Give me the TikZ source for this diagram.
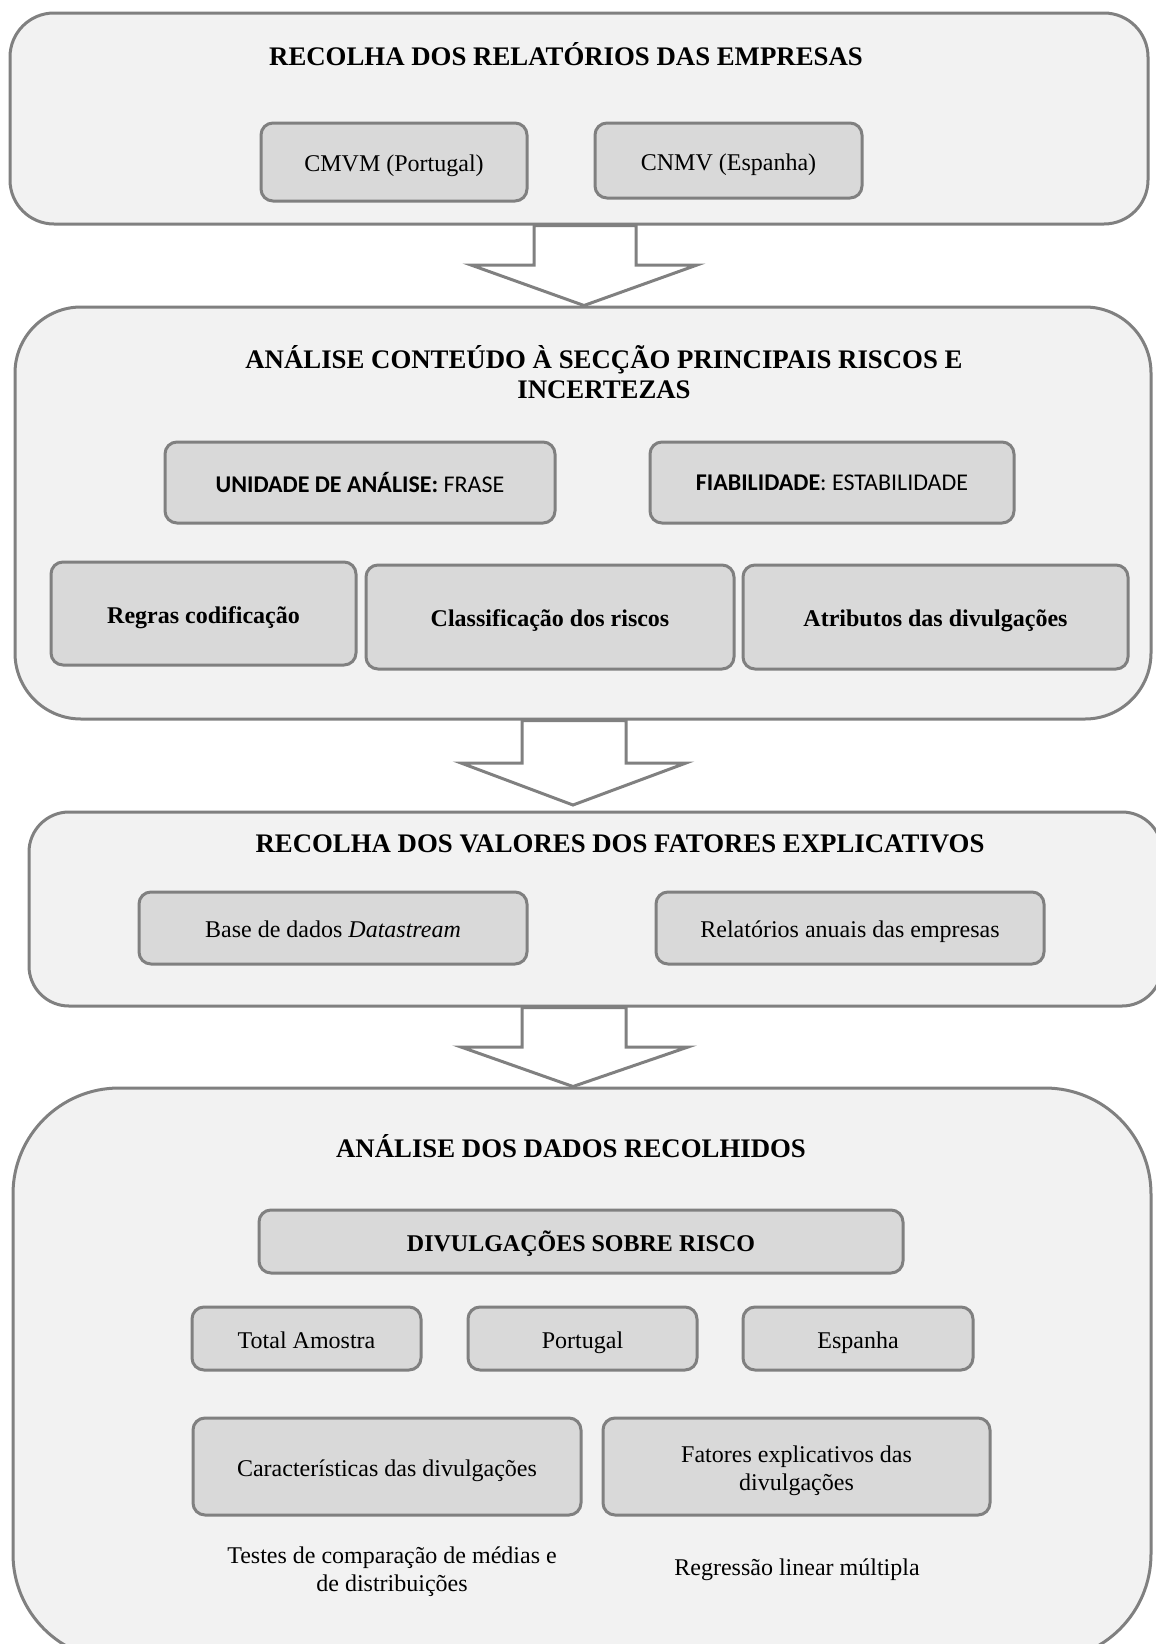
\documentclass[tikz,border=0pt]{standalone}
\usepackage{fontspec}
\setmainfont{Liberation Serif}
\newfontfamily\calibri{Carlito}
\usepackage{tikz}
\definecolor{outerfill}{HTML}{F2F2F2}
\definecolor{innerfill}{HTML}{D9D9D9}
\definecolor{edgegray}{HTML}{808080}

\begin{document}
\begin{tikzpicture}[x=0.5pt,y=-0.5pt,
 outer/.style={rectangle,draw=edgegray,fill=outerfill,line width=1.5pt,inner sep=0pt},
 inner/.style={rectangle,rounded corners=6pt,draw=edgegray,fill=innerfill,line width=1.5pt,inner sep=0pt,align=center,font=\fontsize{12}{14}\selectfont},
 box/.style={inner,execute at begin node={\rule[-3pt]{0pt}{15.5pt}}},
 boxbf/.style={box,font=\bfseries\fontsize{12}{14}\selectfont},
 boxsf/.style={inner,font=\calibri\fontsize{12}{14}\selectfont},
 title/.style={align=center,inner sep=0pt,font=\bfseries\fontsize{13.4}{15}\selectfont},
 plain/.style={align=center,inner sep=0pt,font=\fontsize{12}{14}\selectfont},
 hollow/.style={draw=edgegray,fill=white,line width=1.5pt,line join=miter}]

 \useasboundingbox (0,0) rectangle (1156,1644);
 \clip (0,0) rectangle (1156,1644);

 \node at (579,118.5) [outer,rounded corners=22pt,minimum width=569pt,minimum height=105.5pt] (rel) {};
 \node at (566,54) [title] (t1) {RECOLHA DOS RELATÓRIOS DAS EMPRESAS};
 \node at (394,162) [box,minimum width=133pt,minimum height=39pt] (cmvm) {CMVM (Portugal)};
 \node at (728.5,160.5) [box,minimum width=133.5pt,minimum height=37.5pt] (cnmv) {CNMV (Espanha)};

 \node at (583,513) [outer,rounded corners=33pt,minimum width=568pt,minimum height=206pt] (cont) {};
 \node at (604,372) [title] (t2) {ANÁLISE CONTEÚDO À SECÇÃO PRINCIPAIS RISCOS E\\INCERTEZAS};
 \node at (360,482.5) [boxsf,minimum width=195pt,minimum height=40.5pt] (unid) {\textbf{UNIDADE DE ANÁLISE:} FRASE};
 \node at (832,482.5) [boxsf,minimum width=182pt,minimum height=40.5pt] (fiab) {\textbf{FIABILIDADE}: ESTABILIDADE};
 \node at (203.5,613.5) [boxbf,minimum width=152.5pt,minimum height=51.5pt] (regr) {Regras codificação};
 \node at (550,617) [boxbf,minimum width=184pt,minimum height=52pt] (clas) {Classificação dos riscos};
 \node at (935.5,617) [boxbf,minimum width=192.5pt,minimum height=52pt] (atri) {Atributos das divulgações};

 \node at (595.5,909) [outer,rounded corners=20pt,minimum width=566.5pt,minimum height=97pt] (val) {};
 \node at (620,844) [title] (t3) {RECOLHA DOS VALORES DOS FATORES EXPLICATIVOS};
 \node at (333,928) [box,minimum width=194pt,minimum height=36pt] (base) {Base de dados \textit{Datastream}};
 \node at (850,928) [box,minimum width=194pt,minimum height=36pt] (anua) {Relatórios anuais das empresas};

 \node at (582,1374) [outer,rounded corners=53pt,minimum width=569pt,minimum height=286pt] (dad) {};
 \node at (571,1146) [title] (t4) {ANÁLISE DOS DADOS RECOLHIDOS};
 \node at (581,1241.5) [boxbf,minimum width=322pt,minimum height=31.5pt] (divu) {DIVULGAÇÕES SOBRE RISCO};
 \node at (306.5,1338.5) [box,minimum width=114.5pt,minimum height=31.5pt] (tot) {Total Amostra};
 \node at (582.5,1338.5) [box,minimum width=114.5pt,minimum height=31.5pt] (por) {Portugal};
 \node at (858,1338.5) [box,minimum width=115pt,minimum height=31.5pt] (esp) {Espanha};
 \node at (387,1466.5) [box,minimum width=194pt,minimum height=48.5pt] (car) {Características das divulgações};
 \node at (796.5,1466.5) [inner,minimum width=193.5pt,minimum height=48.5pt] (fat) {\rule{0pt}{12.5pt}Fatores explicativos das\\divulgações};
 \node at (392,1571.5) [plain] (tes) {Testes de comparação de médias e\\de distribuições};
 \node at (797,1570) [plain] (reg) {Regressão linear múltipla};

 \draw[hollow] (534,0 |- rel.south) -- (534,265) -- (471,265) -- (584,0 |- cont.north)
   -- (697,265) -- (636,265) -- (636,0 |- rel.south) -- cycle;
 \draw[hollow] (522,0 |- cont.south) -- (522,763) -- (461,763) -- (573,805)
   -- (686,763) -- (626,763) -- (626,0 |- cont.south) -- cycle;
 \draw[hollow] (522,0 |- val.south) -- (522,1047) -- (461,1047) -- (573,0 |- dad.north)
   -- (688,1047) -- (626,1047) -- (626,0 |- val.south) -- cycle;
\end{tikzpicture}
\end{document}
